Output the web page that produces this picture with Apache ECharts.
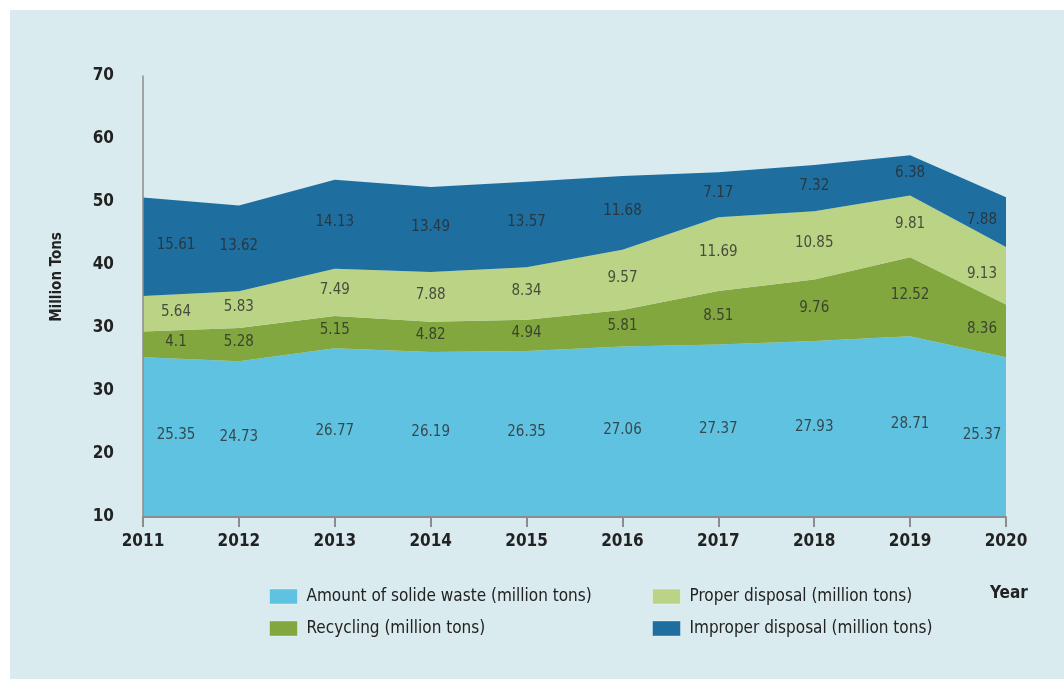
<!DOCTYPE html>
<html>
<head>
<meta charset="utf-8">
<script src="https://cdn.jsdelivr.net/npm/echarts@6/dist/echarts.min.js"></script>
<style>
  html, body { margin: 0; padding: 0; background: #ffffff; }
  #panel { position: absolute; left: 10px; top: 10px; width: 1054px; height: 669px; background: #d9ebee; }
  #chart { position: absolute; left: 0; top: 0; width: 1064px; height: 679px; }
</style>
</head>
<body>
<div id="panel"></div>
<div id="chart"></div>
<script>
const years = ['2011','2012','2013','2014','2015','2016','2017','2018','2019','2020'];
const solidWaste = [25.35, 24.73, 26.77, 26.19, 26.35, 27.06, 27.37, 27.93, 28.71, 25.37];
const recycling  = [4.1, 5.28, 5.15, 4.82, 4.94, 5.81, 8.51, 9.76, 12.52, 8.36];
const proper     = [5.64, 5.83, 7.49, 7.88, 8.34, 9.57, 11.69, 10.85, 9.81, 9.13];
const improper   = [15.61, 13.62, 14.13, 13.49, 13.57, 11.68, 7.17, 7.32, 6.38, 7.88];
const yTickLabels = ['10', '20', '30', '30', '40', '50', '60', '70'];

const names = [
  'Amount of solide waste (million tons)',
  'Recycling (million tons)',
  'Proper disposal (million tons)',
  'Improper disposal (million tons)'
];
const colors = ['#60c2e1', '#82a73f', '#bbd385', '#1e6fa0'];
const layers = [solidWaste, recycling, proper, improper];

const FONT = "'DejaVu Sans Condensed', 'Liberation Sans Narrow', Roboto, sans-serif";

const areaSeries = layers.map((arr, k) => ({
  name: names[k],
  type: 'line',
  stack: 'total',
  data: arr,
  symbol: 'none',
  lineStyle: { width: 0 },
  itemStyle: { color: colors[k] },
  areaStyle: { color: colors[k], opacity: 1 },
  z: 2
}));

// label series placed at the middle of each band
const labelSeries = layers.map((arr, k) => {
  const data = arr.map((v, i) => {
    let base = 0;
    for (let j = 0; j < k; j++) base += layers[j][i];
    let dx = 0;
    if (i === 0) dx = 33;
    if (i === arr.length - 1) dx = -24;
    return { value: [i, base + v / 2, v], label: { offset: [dx, -2] } };
  });
  return {
    type: 'scatter',
    data: data,
    symbolSize: 0,
    silent: true,
    z: 5,
    label: {
      show: true,
      position: 'inside',
      formatter: p => String(p.value[2]),
      color: '#2a2a2a',
      fontSize: 15,
      fontFamily: FONT
    }
  };
});

const chart = echarts.init(document.getElementById('chart'));
chart.setOption({
  animation: false,
  textStyle: { fontFamily: FONT },
  grid: { left: 143, right: 58, top: 76, bottom: 162 },
  xAxis: {
    type: 'category',
    data: years,
    boundaryGap: false,
    axisLine: { lineStyle: { color: '#8c8c8c', width: 2 } },
    axisTick: { show: true, length: 10, lineStyle: { color: '#8c8c8c', width: 2 } },
    axisLabel: { color: '#222', fontSize: 17, fontWeight: 'bold', margin: 16, fontFamily: FONT },
    z: 10
  },
  yAxis: {
    type: 'value',
    min: 0, max: 70, interval: 10,
    axisLine: { show: true, lineStyle: { color: '#8c8c8c', width: 1.5 } },
    axisTick: { show: false },
    splitLine: { show: false },
    axisLabel: {
      color: '#222', fontSize: 17, fontWeight: 'bold', margin: 29, fontFamily: FONT,
      formatter: (v) => yTickLabels[Math.round(v / 10)]
    },
    z: 10
  },
  legend: [
    {
      data: [names[0], names[1]],
      orient: 'vertical',
      left: 269, top: 588, padding: 0,
      icon: 'rect', itemWidth: 28, itemHeight: 15, itemGap: 15,
      itemStyle: { borderColor: 'rgba(255,255,255,0.35)', borderWidth: 1 },
      textStyle: { color: '#222', fontSize: 17, fontFamily: FONT, padding: [0, 0, 0, 4] }
    },
    {
      data: [names[2], names[3]],
      orient: 'vertical',
      left: 652, top: 588, padding: 0,
      icon: 'rect', itemWidth: 28, itemHeight: 15, itemGap: 15,
      itemStyle: { borderColor: 'rgba(255,255,255,0.35)', borderWidth: 1 },
      textStyle: { color: '#222', fontSize: 17, fontFamily: FONT, padding: [0, 0, 0, 4] }
    }
  ],
  graphic: [
    {
      type: 'text', left: 990, top: 585,
      style: { text: 'Year', fill: '#222', fontSize: 17, fontWeight: 'bold', fontFamily: FONT }
    },
    {
      type: 'text', x: 57, y: 277, rotation: Math.PI / 2,
      style: {
        text: 'Million Tons', fill: '#222', fontSize: 15, fontWeight: 'bold', fontFamily: FONT,
        align: 'center', verticalAlign: 'middle'
      }
    }
  ],
  series: areaSeries.concat(labelSeries)
});
</script>
</body>
</html>
